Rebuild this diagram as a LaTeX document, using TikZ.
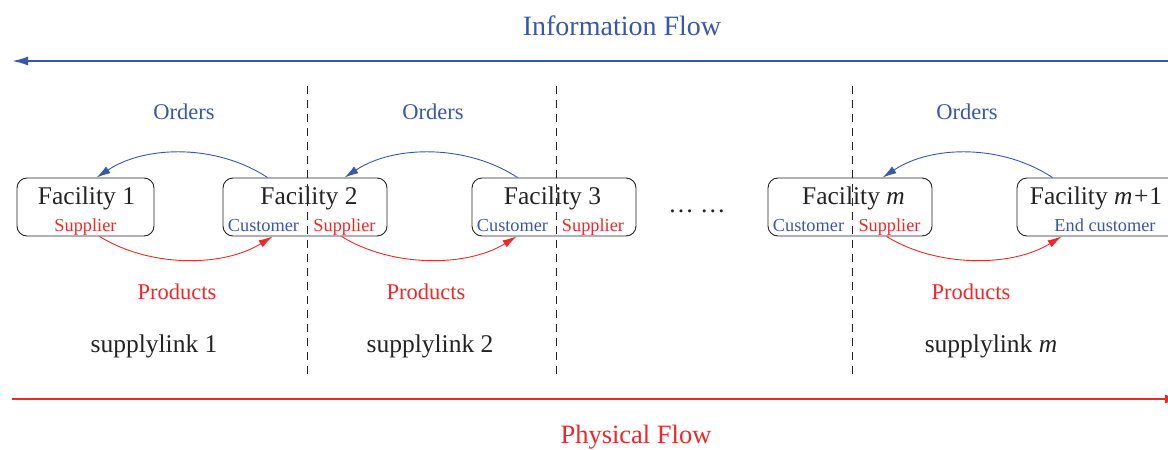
\documentclass[tikz,border=0pt]{standalone}
\usepackage{fontspec}
\setmainfont{Liberation Serif}
\usetikzlibrary{arrows.meta}
\definecolor{flowblue}{RGB}{55,88,170}
\definecolor{flowred}{RGB}{238,40,40}
\definecolor{ink}{RGB}{35,35,35}
\tikzset{
  facility/.style={draw=ink, line width=0.9pt, rounded corners=10pt, inner sep=0pt},
  ftext/.style={anchor=base, inner sep=0pt, text=ink, font=\fontsize{25.5}{28}\selectfont},
  subtext/.style={anchor=base, inner sep=0pt, font=\fontsize{18.3}{20}\selectfont},
  lbl/.style={anchor=base, inner sep=0pt, font=\fontsize{22.5}{25}\selectfont},
  linktext/.style={anchor=base, inner sep=0pt, text=ink, font=\fontsize{25.5}{28}\selectfont},
  order/.style={draw=flowblue, line width=0.9pt, -{Latex[length=14pt,width=8pt]}},
  product/.style={draw=flowred, line width=0.9pt, -{Latex[length=14pt,width=8pt]}},
  divider/.style={draw=ink, line width=0.9pt, dash pattern=on 8pt off 6pt},
}
\begin{document}
\begin{tikzpicture}[x=1pt, y=-1pt]
\useasboundingbox (0,0) rectangle (1168,450);

% information flow (right to left)
\coordinate (infoR) at (1168,61);
\coordinate (infoL) at (12,61);
\draw[flowblue, line width=2pt, -{Latex[length=16pt,width=9pt]}] (infoR) -- (infoL);
\node[anchor=base, inner sep=0pt, text=flowblue, font=\fontsize{28}{30}\selectfont] (infotxt) at (622,35) {Information Flow};

% physical flow (left to right)
\coordinate (physL) at (12,399);
\coordinate (physR) at (1181,399);
\draw[flowred, line width=2pt, -{Latex[length=16pt,width=9pt]}] (physL) -- (physR);
\node[anchor=base, inner sep=0pt, text=flowred, font=\fontsize{26.5}{29}\selectfont] (phystxt) at (636,443) {Physical Flow};

% supply-link boundaries
\draw[divider] (307,86) -- (307,378);
\draw[divider] (556,86) -- (556,378);
\draw[divider] (852,86) -- (852,378);

% facilities
\node[facility, minimum width=137pt, minimum height=58pt] (f1) at (85.5,207) {};
\node[facility, minimum width=164pt, minimum height=58pt] (f2) at (305,207) {};
\node[facility, minimum width=164pt, minimum height=58pt] (f3) at (554,207) {};
\node[facility, minimum width=164pt, minimum height=58pt] (fm) at (850,207) {};
\node[facility, minimum width=164pt, minimum height=58pt] (fn) at (1099,207) {};

\node[ftext] (t1) at (86.5,204) {Facility 1};
\node[ftext] (t2) at (309,204) {Facility 2};
\node[ftext] (t3) at (552.5,204) {Facility 3};
\node[ftext] (tm) at (853.5,204) {Facility \textit{m}};
\node[ftext] (tn) at (1096,204) {Facility \textit{m}\kern1.5pt+\kern1pt1};

\node[subtext, text=flowred] (s1) at (85.5,231) {Supplier};
\node[subtext, text=flowblue] (c2) at (263.5,231) {Customer};
\node[subtext, text=flowred] (s2) at (344.5,231) {Supplier};
\node[subtext, text=flowblue] (c3) at (512.5,231) {Customer};
\node[subtext, text=flowred] (s3) at (593,231) {Supplier};
\node[subtext, text=flowblue] (cm) at (808.5,231) {Customer};
\node[subtext, text=flowred] (sm) at (889.5,231) {Supplier};
\node[subtext, text=flowblue] (cn) at (1105,231) {End customer};

\node[ftext] (dots) at (697,212) {\dots\ \dots};

% orders: customer to supplier
\draw[order] ([xshift=45pt]f2.north west) .. controls +(-50,-33) and +(50,-33) .. ([xshift=80pt]f1.north west);
\draw[order] ([xshift=46pt]f3.north west) .. controls +(-50,-33) and +(50,-33) .. ([xshift=122pt]f2.north west);
\draw[order] ([xshift=36pt]fn.north west) .. controls +(-50,-33) and +(50,-33) .. ([xshift=115pt]fm.north west);

% products: supplier to customer
\draw[product] ([xshift=83pt]f1.south west) .. controls +(50,31) and +(-50,31) .. ([xshift=50pt]f2.south west);
\draw[product] ([xshift=119pt]f2.south west) .. controls +(50,31) and +(-50,31) .. ([xshift=45pt]f3.south west);
\draw[product] ([xshift=119pt]fm.south west) .. controls +(50,31) and +(-50,31) .. ([xshift=45pt]fn.south west);

\node[lbl, text=flowblue] (o1) at (184,119) {Orders};
\node[lbl, text=flowblue] (o2) at (433,119) {Orders};
\node[lbl, text=flowblue] (o3) at (967,119) {Orders};

\node[lbl, text=flowred] (p1) at (177,299) {Products};
\node[lbl, text=flowred] (p2) at (426,299) {Products};
\node[lbl, text=flowred] (p3) at (971,299) {Products};

\node[linktext] (l1) at (154,352) {supplylink 1};
\node[linktext] (l2) at (430,352) {supplylink 2};
\node[linktext] (lm) at (991,352) {supplylink \textit{m}};
\end{tikzpicture}
\end{document}
